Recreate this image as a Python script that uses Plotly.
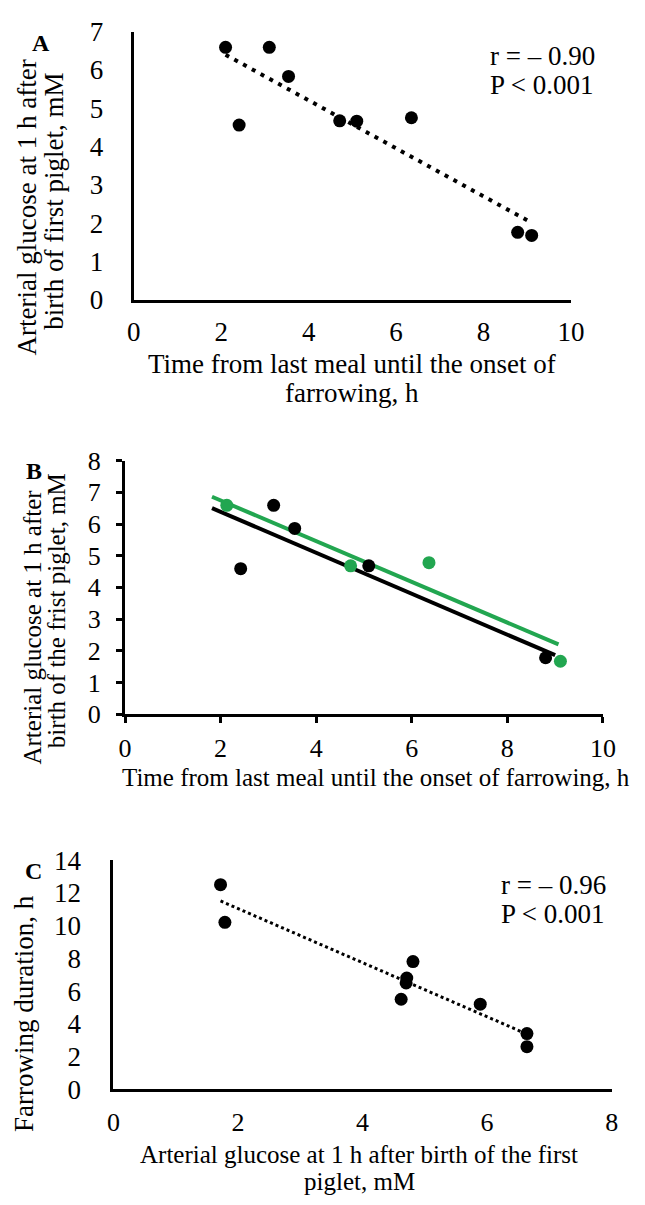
import numpy as np
import plotly.graph_objects as go

# ---------------- data ----------------
# Panel A
a_time = [2.10, 3.10, 3.54, 2.41, 4.71, 5.10, 6.35, 8.78, 9.10]
a_glucose = [6.59, 6.59, 5.83, 4.56, 4.67, 4.66, 4.75, 1.76, 1.68]
# Panel B
b_black_time = [2.42, 3.11, 3.55, 5.10, 8.80]
b_black_glucose = [4.59, 6.59, 5.86, 4.68, 1.78]
b_green_time = [2.13, 4.72, 6.36, 9.11]
b_green_glucose = [6.59, 4.68, 4.78, 1.67]
b_black_fit_x = [1.82, 9.00]
b_black_fit_y = [6.50, 1.86]
b_green_fit_x = [1.82, 9.07]
b_green_fit_y = [6.86, 2.20]
# Panel C
c_glucose = [1.72, 1.79, 4.81, 4.71, 4.70, 4.62, 5.89, 6.64, 6.64]
c_duration = [12.5, 10.2, 7.8, 6.8, 6.5, 5.5, 5.2, 3.4, 2.6]

a_yticks = [0, 1, 2, 3, 4, 5, 6, 7]
a_xticks = [0, 2, 4, 6, 8, 10]
b_yticks = [0, 1, 2, 3, 4, 5, 6, 7, 8]
b_xticks = [0, 2, 4, 6, 8, 10]
c_yticks = [0, 2, 4, 6, 8, 10, 12, 14]
c_xticks = [0, 2, 4, 6, 8]

# ---------------- layout helpers ----------------
W, H = 645, 1205
FONT = "Liberation Serif"
GREEN = "#22A650"


def px(x):
    return x / W


def py(y):
    return 1 - y / H


def fit(xs, ys):
    k, b = np.polyfit(xs, ys, 1)
    x0, x1 = min(xs), max(xs)
    return [x0, x1], [k * x0 + b, k * x1 + b]


fig = go.Figure()

# Panel A
fig.add_trace(go.Scatter(x=a_time, y=a_glucose, mode="markers",
                         marker=dict(color="black", size=13), xaxis="x", yaxis="y"))
fx, fy = fit(a_time, a_glucose)
fig.add_trace(go.Scatter(x=fx, y=fy, mode="lines",
                         line=dict(color="black", width=4, dash="4px,6px"), xaxis="x", yaxis="y"))

# Panel B
fig.add_trace(go.Scatter(x=b_black_fit_x, y=b_black_fit_y, mode="lines",
                         line=dict(color="black", width=4), xaxis="x2", yaxis="y2"))
fig.add_trace(go.Scatter(x=b_green_fit_x, y=b_green_fit_y, mode="lines",
                         line=dict(color=GREEN, width=4), xaxis="x2", yaxis="y2"))
fig.add_trace(go.Scatter(x=b_black_time, y=b_black_glucose, mode="markers",
                         marker=dict(color="black", size=13), xaxis="x2", yaxis="y2"))
fig.add_trace(go.Scatter(x=b_green_time, y=b_green_glucose, mode="markers",
                         marker=dict(color=GREEN, size=13), xaxis="x2", yaxis="y2"))

# Panel C
fig.add_trace(go.Scatter(x=c_glucose, y=c_duration, mode="markers",
                         marker=dict(color="black", size=13), xaxis="x3", yaxis="y3"))
fx, fy = fit(c_glucose, c_duration)
fig.add_trace(go.Scatter(x=fx, y=fy, mode="lines",
                         line=dict(color="black", width=3, dash="3px,3px"), xaxis="x3", yaxis="y3"))


def ax(dom, anchor, rng, vals, size, ticks="", standoff=6):
    return dict(domain=dom, anchor=anchor, range=rng, tickvals=vals, ticktext=[str(v) for v in vals],
                showline=True, linecolor="black", linewidth=3, showgrid=False, zeroline=False,
                ticks=ticks, ticklen=6, tickwidth=3, tickcolor="black",
                tickfont=dict(family=FONT, size=size, color="black"),
                ticklabelstandoff=standoff, fixedrange=True)


fig.update_layout(
    width=W, height=H, margin=dict(l=0, r=0, t=0, b=0),
    paper_bgcolor="white", plot_bgcolor="white", showlegend=False,
    font=dict(family=FONT, size=25, color="black"),
    xaxis=ax([px(131), px(583)], "y", [0, 10], a_xticks, 27, standoff=6),
    yaxis=ax([py(292), py(17)], "x", [0, 7], a_yticks, 27, standoff=22),
    xaxis2=ax([px(122), px(616)], "y2", [0, 10], b_xticks, 26, ticks="outside", standoff=3),
    yaxis2=ax([py(717), py(457)], "x2", [0, 8], b_yticks, 26, ticks="outside", standoff=10),
    xaxis3=ax([px(110), px(625)], "y3", [0, 8], c_xticks, 26, standoff=8),
    yaxis3=ax([py(1101.7), py(866.7)], "x3", [0, 14], c_yticks, 27, standoff=24),
)


def note(text, x, y, size=27, angle=0, xanchor="center", bold=False):
    if bold:
        text = "<b>" + text + "</b>"
    fig.add_annotation(text=text, x=px(x), y=py(y), xref="paper", yref="paper",
                       xanchor=xanchor, yanchor="middle", showarrow=False, textangle=angle,
                       font=dict(family=FONT, size=size, color="black"))


# panel letters
note("A", 35, 29, size=24, bold=True)
note("B", 28, 468, size=24, bold=True)
note("C", 27, 878, size=24, bold=True)

# statistics
note("r = \u2013 0.90", 497, 42, xanchor="left")
note("P < 0.001", 497, 72, xanchor="left")
note("r = \u2013 0.96", 509, 892, xanchor="left")
note("P < 0.001", 509, 922, xanchor="left")

# axis titles A
note("Arterial glucose at 1 h after", 21, 197, size=27, angle=-90)
note("birth of first piglet, mM", 49, 191, size=27, angle=-90)
note("Time from last meal until the onset of", 357, 358)
note("farrowing, h", 357, 388)

# axis titles B
note("Arterial glucose at 1 h after", 26, 628, size=25, angle=-90)
note("birth of the frist piglet, mM", 51, 611, size=25, angle=-90)
note("Time from last meal until the onset of farrowing, h", 381, 782, size=25)

# axis titles C
note("Farrowing duration, h", 17, 1024, angle=-90)
note("Arterial glucose at 1 h after birth of the first", 364, 1169, size=25)
note("piglet, mM", 364, 1196, size=25)

fig.write_html("out.html")
